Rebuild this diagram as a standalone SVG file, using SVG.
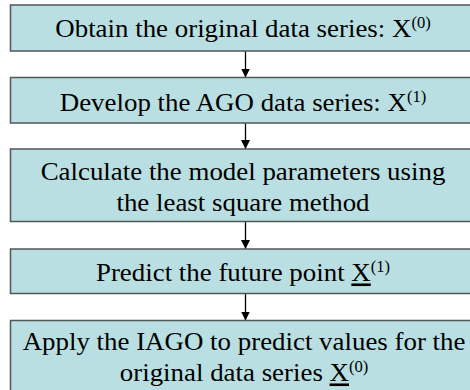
<svg xmlns="http://www.w3.org/2000/svg" width="470" height="390" viewBox="0 0 470 390">
<defs>
<style>
.box{fill:#b9dfe2;stroke:#505858;stroke-width:1.5}
.con{stroke:#000;stroke-width:1.3;fill:none;marker-end:url(#ah)}
</style>
<marker id="ah" viewBox="0 0 10 10" refX="10" refY="5" markerWidth="9" markerHeight="9" markerUnits="userSpaceOnUse" orient="auto">
<path d="M0,0 L10,5 L0,10 z" fill="#000"/>
</marker>
</defs>
<g id="connectors">
<line class="con" x1="245.5" y1="51" x2="245.5" y2="77.5"/>
<line class="con" x1="245.5" y1="123" x2="245.5" y2="149"/>
<line class="con" x1="245.5" y1="221.5" x2="245.5" y2="249"/>
<line class="con" x1="245.5" y1="293.5" x2="245.5" y2="320.5"/>
</g>
<g id="n1">
<rect class="box" x="10.5" y="5" width="470" height="46"/>
</g>
<g id="n2">
<rect class="box" x="10.5" y="77.5" width="470" height="45.5"/>
</g>
<g id="n3">
<rect class="box" x="10.5" y="149" width="470" height="72.5"/>
</g>
<g id="n4">
<rect class="box" x="10.5" y="249" width="470" height="44.5"/>
</g>
<g id="n5">
<rect class="box" x="10.5" y="320.5" width="470" height="80"/>
</g>
<g id="labels" font-family="Liberation Serif, Times New Roman, serif" font-size="26" fill="#000" text-anchor="middle" transform="translate(243,0) scale(1.035,1)">
<text x="0" y="37">Obtain the original data series: X<tspan font-size="16" dy="-9">(0)</tspan></text>
<text x="0" y="111">Develop the AGO data series: X<tspan font-size="16" dy="-9">(1)</tspan></text>
<text x="0" y="180">Calculate the model parameters using</text>
<text x="0" y="211.5">the least square method</text>
<text x="0" y="281.5">Predict the future point <tspan text-decoration="underline">X</tspan><tspan font-size="16" dy="-9">(1)</tspan></text>
<text x="1" y="350">Apply the IAGO to predict values for the</text>
<text x="1" y="381.5">original data series <tspan text-decoration="underline">X</tspan><tspan font-size="16" dy="-9">(0)</tspan></text>
</g>
</svg>
